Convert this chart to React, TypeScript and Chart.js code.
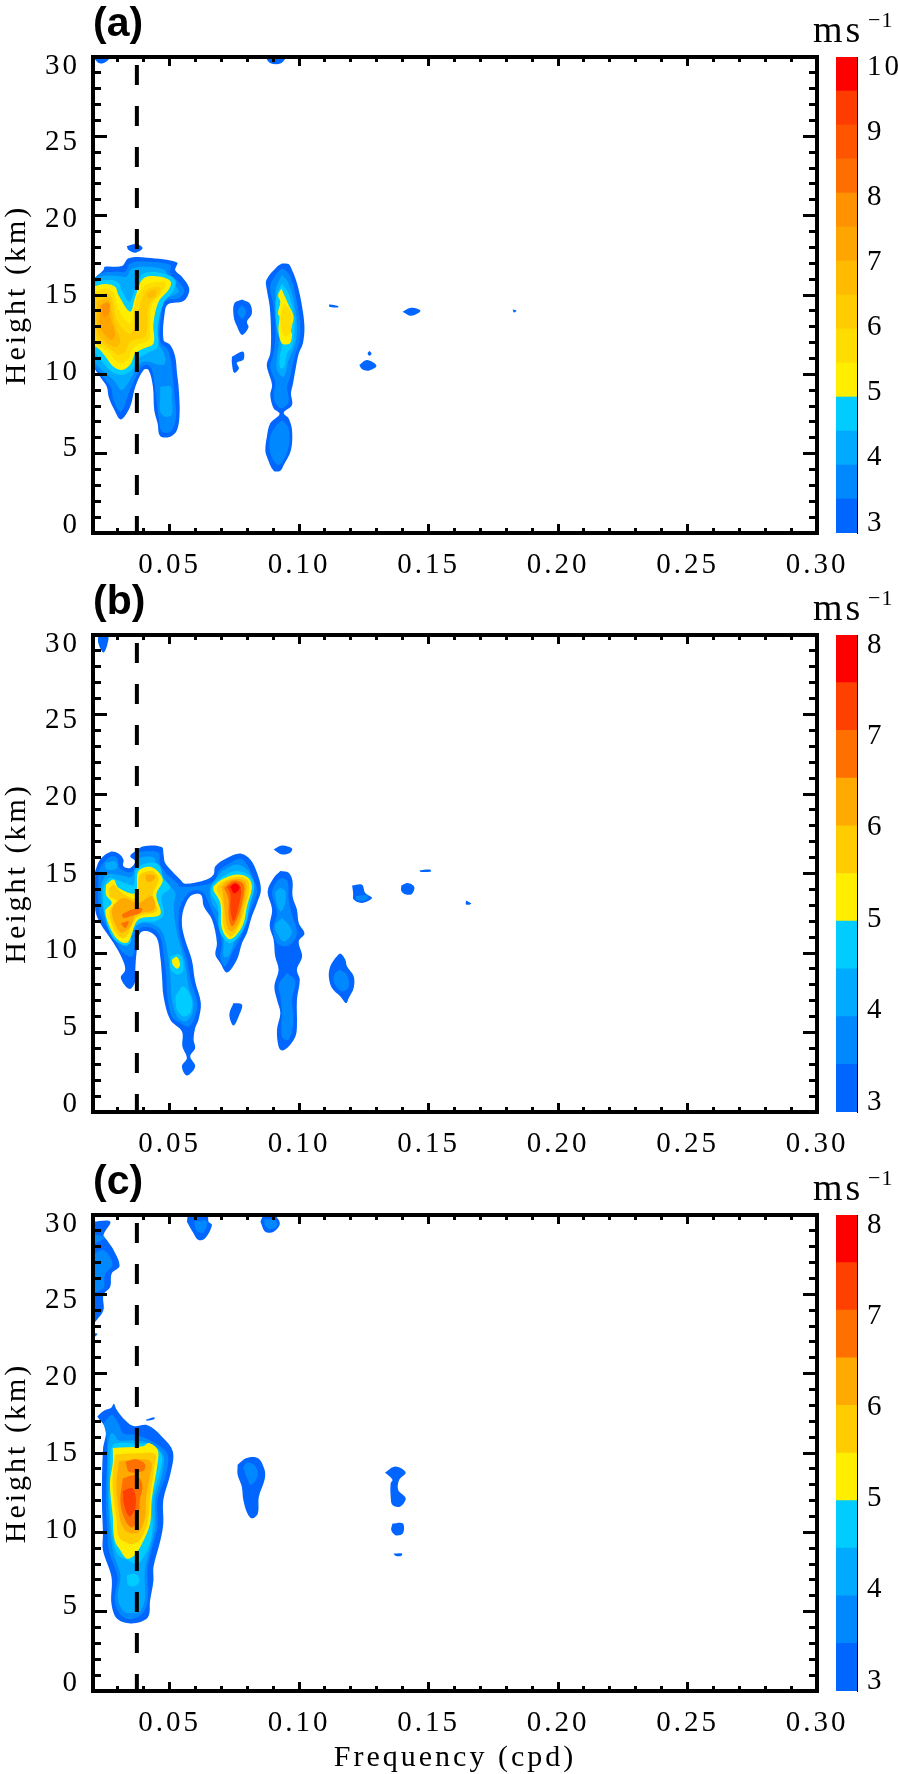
import React, { useEffect, useRef } from "react";
import { Chart, registerables } from "chart.js";

Chart.register(...registerables);

type Poly = number[][];

const xMin = 0.02046;
const xMax = 0.3;
const dashFrequency = 0.0374;
const xMajor = [0.05, 0.1, 0.15, 0.2, 0.25, 0.3];
const xMinor = [0.03, 0.04, 0.06, 0.07, 0.08, 0.09, 0.11, 0.12, 0.13, 0.14, 0.16, 0.17, 0.18, 0.19, 0.21, 0.22, 0.23, 0.24, 0.26, 0.27, 0.28, 0.29];
const yMajor = [0, 5, 10, 15, 20, 25, 30];
const yMinor = [1, 2, 3, 4, 6, 7, 8, 9, 11, 12, 13, 14, 16, 17, 18, 19, 21, 22, 23, 24, 26, 27, 28, 29];
const barTicksA = [3, 4, 5, 6, 7, 8, 9, 10];
const barTicksBC = [3, 4, 5, 6, 7, 8];
const bandsA = [3, 3.5, 4, 4.5, 5, 5.5, 6, 6.5, 7, 7.5, 8, 8.5, 9, 9.5];
const bandsBC = [3, 3.5, 4, 4.5, 5, 5.5, 6, 6.5, 7, 7.5];
const coloursA = ["#0066ff", "#0088ff", "#00aaff", "#00ccff", "#ffee00", "#ffdd00", "#ffcc00", "#ffbb00", "#ffa500", "#ff9200", "#ff6e00", "#ff5500", "#ff3c00", "#ff0000"];
const coloursBC = ["#0066ff", "#0088ff", "#00aaff", "#00ccff", "#ffee00", "#ffcc00", "#ffaa00", "#ff7000", "#ff4000", "#ff0000"];

// ---------- panel (a): contour outlines, [frequency, height] ----------
const A_30: Poly[] = [
  [[.0204,15.94],[.0245,16.57],[.025,16.78],[.0316,16.82],[.0342,17.31],[.0413,17.35],[.0529,17.05],[.0522,16.57],[.0548,16.15],[.0574,15.52],[.0574,15.1],[.0554,14.62],[.0496,14.43],[.0483,14.05],[.0477,12.16],[.0503,11.85],[.0522,11.11],[.0529,10.06],[.0535,9.22],[.0539,7.54],[.0529,6.49],[.0503,6.07],[.0464,6.11],[.0454,6.91],[.0441,7.75],[.0436,9.22],[.0419,10.27],[.04,10.27],[.0368,9.22],[.0348,7.96],[.0312,7.16],[.0284,7.86],[.0265,8.59],[.0258,9.22],[.0232,9.85],[.0204,10.69]],
  [[.0934,16.99],[.096,16.95],[.0973,16.57],[.0986,16.05],[.0999,15.31],[.1012,14.26],[.1021,13.0],[.1015,11.95],[.0999,11.32],[.0986,10.27],[.0977,9.43],[.0969,8.8],[.0973,8.07],[.0941,7.58],[.096,7.22],[.0973,6.49],[.0969,5.23],[.0941,4.28],[.0928,3.93],[.0902,3.93],[.0876,4.81],[.087,5.23],[.0876,6.07],[.0889,6.91],[.0925,7.5],[.0902,7.86],[.0889,8.7],[.0896,9.33],[.0879,10.27],[.0876,10.69],[.0889,11.32],[.0892,12.58],[.0887,14.26],[.0876,15.31],[.0874,15.94],[.0915,16.78]],
  [[.078,14.72],[.081,14.47],[.0818,13.84],[.0799,13.32],[.0805,12.96],[.078,12.48],[.076,13.04],[.0748,13.63],[.075,14.47]],
  [[.0741,11.11],[.0784,11.43],[.0786,10.94],[.076,10.73],[.0768,10.37],[.075,10.1],[.0741,10.69]],
  [[.1117,14.41],[.1151,14.3],[.1151,14.22],[.1117,14.26]],
  [[.14,13.95],[.1433,14.2],[.1469,14.01],[.1433,13.69]],
  [[.1233,10.59],[.1263,10.9],[.1299,10.54],[.1269,10.23],[.1243,10.33]],
  [[.1272,11.47],[.128,11.32],[.1272,11.17],[.1265,11.32]],
  [[.1825,14.1],[.184,14.0],[.183,13.9]],
  [[.0204,30],[.0268,30],[.0255,29.7],[.023,29.6]],
  [[.087,30],[.0947,30],[.093,29.6],[.089,29.6]],
  [[.0335,18.08],[.0374,18.21],[.0396,17.94],[.0368,17.66],[.0342,17.83]],
];
const A_35: Poly[] = [
  [[.0204,15.94],[.0232,16.36],[.0297,16.47],[.0329,16.47],[.0348,16.99],[.0413,17.1],[.0503,16.9],[.0503,16.36],[.0541,15.73],[.0557,15.2],[.0535,14.79],[.0483,14.64],[.047,14.05],[.0464,12.06],[.049,11.64],[.0505,10.9],[.0513,9.85],[.052,8.59],[.0525,7.33],[.0505,6.4],[.047,6.4],[.0458,7.33],[.0445,9.01],[.0432,10.27],[.0413,10.6],[.0387,10.37],[.0348,9.01],[.0312,7.64],[.0284,8.38],[.0273,9.22],[.0232,10.06],[.0204,10.8]],
  [[.0934,16.68],[.096,16.36],[.0979,15.52],[.0995,14.26],[.1005,13.0],[.0999,11.95],[.0979,10.9],[.0966,9.85],[.0954,9.22],[.096,8.28],[.0934,7.86],[.0909,8.17],[.0902,8.8],[.0909,9.43],[.0889,10.48],[.0902,11.32],[.0909,12.58],[.0902,14.26],[.0889,15.52],[.0909,16.25]],
  [[.0934,7.12],[.096,6.6],[.0957,5.23],[.0921,4.29],[.0889,5.02],[.0889,6.07],[.0909,6.7]],
  [[.078,14.37],[.0796,13.95],[.078,13.52],[.0763,13.95]],
];
const A_40: Poly[] = [
  [[.0204,15.84],[.0245,16.19],[.0303,16.19],[.0333,16.15],[.0355,16.67],[.0413,16.78],[.0483,16.57],[.0492,16.15],[.0522,15.62],[.0535,15.2],[.0509,14.93],[.0477,14.68],[.0462,13.84],[.0458,11.95],[.0477,11.43],[.0483,10.69],[.0458,10.6],[.0419,10.8],[.0387,10.69],[.0355,9.85],[.0316,9.01],[.0284,9.64],[.0232,10.38],[.0204,11.0]],
  [[.0464,9.22],[.0505,9.22],[.0509,8.49],[.0509,7.45],[.0483,7.33],[.0464,7.65],[.0464,8.59]],
  [[.0934,16.27],[.096,15.73],[.0982,14.47],[.0992,13.0],[.0986,11.95],[.096,10.9],[.0941,9.85],[.0915,10.27],[.0915,11.11],[.0925,12.37],[.0918,14.26],[.0909,15.31]],
];
const A_45: Poly[] = [
  [[.0204,15.73],[.0252,15.94],[.0297,15.84],[.0322,15.1],[.0346,14.58],[.0374,15.73],[.04,16.36],[.0477,16.36],[.0522,15.94],[.0516,15.31],[.0477,14.47],[.0454,13.0],[.0454,11.74],[.0413,11.32],[.038,11.0],[.0355,10.27],[.0316,9.96],[.0277,10.17],[.0245,10.69],[.0219,11.22],[.0204,11.53]],
  [[.0934,15.73],[.096,15.1],[.0982,13.63],[.0982,12.79],[.0973,11.74],[.0954,11.32],[.0943,10.48],[.0928,10.38],[.0925,11.11],[.0934,11.85],[.0915,12.79],[.0909,14.47],[.0918,15.2]],
];
const A_50: Poly[] = [
  [[.0204,15.52],[.0252,15.69],[.029,15.52],[.0303,15.0],[.0348,13.95],[.0368,14.89],[.04,16.05],[.0464,16.15],[.0505,15.84],[.0496,15.31],[.0458,14.58],[.0438,13.21],[.0438,11.95],[.04,11.63],[.0368,11.32],[.0348,10.6],[.0316,10.27],[.0284,10.48],[.0258,11.0],[.0232,11.53],[.0204,11.95]],
  [[.0932,15.41],[.096,14.37],[.0979,13.63],[.0969,12.79],[.0973,12.47],[.0964,11.95],[.0934,11.95],[.0921,12.79],[.0925,13.63],[.0918,13.84],[.0928,14.57],[.0919,14.99]],
];
const A_55: Poly[] = [
  [[.0209,15.2],[.0258,15.42],[.0284,15.1],[.0303,14.05],[.0342,13.21],[.0355,13.42],[.0368,14.58],[.0406,15.62],[.0464,15.84],[.0487,15.73],[.047,15.1],[.0432,14.37],[.0425,13.0],[.0419,12.16],[.0361,11.74],[.0342,11.0],[.031,10.69],[.0284,11.0],[.0265,11.42],[.0213,12.06]],
  [[.0941,14.47],[.0969,13.84],[.0966,12.58],[.0941,12.47],[.0928,13.42]],
];
const A_60: Poly[] = [
  [[.0213,14.89],[.0265,15.1],[.0284,14.47],[.0297,13.42],[.0342,12.58],[.0368,13.0],[.038,14.05],[.0413,15.31],[.0458,15.52],[.0464,15.2],[.0419,14.26],[.0413,12.79],[.0406,12.37],[.0348,12.06],[.0329,11.42],[.0303,11.22],[.0277,11.53],[.0219,12.37]],
];
const A_65: Poly[] = [
  [[.0219,14.58],[.0265,14.79],[.0277,14.05],[.029,13.0],[.031,12.16],[.0297,11.74],[.0271,11.85],[.0226,12.58]],
  [[.0413,15.1],[.0445,15.31],[.0445,14.99],[.0419,14.79]],
];
const A_70: Poly[] = [
  [[.0232,14.37],[.0265,14.58],[.0271,13.63],[.029,12.58],[.0277,12.16],[.0258,12.37],[.0232,13.0]],
];
const A_75: Poly[] = [
  [[.0239,14.37],[.0265,14.47],[.0265,13.84],[.0245,13.63]],
];

// ---------- panel (b) ----------
const B_30: Poly[] = [
  [[.0213,15.15],[.0232,15.88],[.0271,16.36],[.0303,16.26],[.0322,15.88],[.0322,15.46],[.0348,15.35],[.0368,15.77],[.0348,16.09],[.0368,16.4],[.04,16.72],[.047,16.66],[.0477,16.2],[.0483,15.67],[.0509,15.15],[.0541,14.62],[.056,14.35],[.0644,14.62],[.067,14.93],[.0677,15.46],[.0722,15.98],[.0773,16.26],[.0812,15.88],[.0838,15.04],[.0853,13.99],[.0838,13.15],[.0818,12.31],[.0799,11.26],[.078,10.63],[.076,9.58],[.0722,8.78],[.0696,9.37],[.0677,9.9],[.0683,10.63],[.0664,12.1],[.0632,12.94],[.0625,13.57],[.0612,13.72],[.058,13.57],[.0554,12.73],[.0548,11.79],[.056,10.84],[.0586,9.58],[.0599,8.2],[.0621,6.85],[.0612,5.8],[.0599,5.27],[.0593,4.54],[.0599,4.02],[.058,3.49],[.0599,2.86],[.0567,2.29],[.0548,2.86],[.0567,3.39],[.055,4.12],[.0548,5.06],[.0503,5.8],[.0477,7.27],[.0471,8.53],[.0464,9.79],[.0451,10.94],[.0419,11.36],[.0387,11.26],[.0374,10.21],[.0368,8.95],[.0368,8.22],[.0346,7.73],[.0312,8.43],[.0329,8.95],[.0316,9.69],[.0284,10.63],[.0232,11.89],[.0213,12.73]],
  [[.0928,15.15],[.096,15.04],[.0975,14.51],[.0975,13.57],[.0992,12.73],[.0999,11.89],[.1021,11.22],[.0999,10.73],[.1012,9.79],[.0992,8.95],[.1003,8.32],[.0992,7.06],[.0992,5.38],[.0986,4.75],[.096,4.12],[.0934,3.87],[.0921,4.12],[.0915,5.17],[.0928,6.22],[.0915,7.06],[.0905,7.9],[.0921,8.95],[.0908,9.79],[.0902,10.84],[.0887,11.68],[.0896,12.73],[.0879,13.88],[.0902,14.72]],
  [[.114,9.68],[.116,9.96],[.1179,9.58],[.1185,9.16],[.1211,8.53],[.1211,7.8],[.1192,7.17],[.1182,6.85],[.116,7.27],[.1127,7.8],[.1115,8.53],[.1121,9.16]],
  [[.0747,6.85],[.078,6.74],[.0767,6.01],[.0747,5.44],[.0731,6.12]],
  [[.0902,16.51],[.0934,16.76],[.0973,16.57],[.0966,16.3],[.0934,16.2]],
  [[.1205,14.24],[.1243,14.3],[.1256,13.78],[.1282,13.46],[.1243,13.15],[.1211,13.36],[.1209,13.78]],
  [[.1395,14.25],[.142,14.4],[.1445,14.15],[.1435,13.7],[.141,13.7],[.1395,13.9]],
  [[.1465,15.2],[.1505,15.25],[.151,15.13],[.147,15.1]],
  [[.1645,13.3],[.1665,13.1],[.1645,13.05]],
  [[.0225,30],[.0262,30],[.026,29.4],[.0245,28.9],[.0225,29.5]],
];
const B_35: Poly[] = [
  [[.0226,15.15],[.0245,15.67],[.0271,16.05],[.0297,15.99],[.0307,15.35],[.0348,15.08],[.0374,15.46],[.0368,16.19],[.0406,16.4],[.0458,16.3],[.0464,15.57],[.0492,14.93],[.0529,14.41],[.0541,14.16],[.0644,14.31],[.0677,14.62],[.069,15.15],[.0735,15.67],[.0773,15.92],[.0799,15.57],[.0822,14.72],[.0838,13.89],[.0818,12.94],[.0799,12.0],[.0773,10.94],[.0741,10.0],[.0715,9.16],[.0696,9.69],[.0702,10.63],[.0683,11.89],[.0651,13.15],[.0632,13.78],[.0606,13.95],[.0574,13.78],[.0541,12.94],[.0535,11.89],[.0541,11.05],[.0567,9.58],[.0583,8.2],[.0606,6.96],[.0599,6.01],[.0574,5.38],[.0541,5.59],[.0509,6.01],[.0492,7.27],[.0487,8.53],[.0477,9.9],[.0464,11.05],[.0432,11.57],[.0387,11.57],[.0368,10.73],[.0355,9.79],[.0316,10.1],[.029,10.84],[.0245,12.0],[.0226,12.83]],
  [[.0934,14.73],[.0956,14.51],[.096,13.36],[.0973,12.42],[.0992,11.26],[.0973,10.63],[.0947,10.42],[.0915,10.63],[.09,11.57],[.0915,12.52],[.0896,13.78],[.0915,14.51]],
  [[.0954,8.74],[.0986,8.22],[.0973,7.06],[.0979,5.8],[.096,4.54],[.0934,4.75],[.0934,6.22],[.0928,7.27],[.0921,8.0]],
  [[.116,8.95],[.1185,8.63],[.1192,7.9],[.1166,7.58],[.1134,8.2],[.114,8.74]],
  [[.1218,13.57],[.1263,13.63],[.1263,13.36],[.1224,13.32]],
];
const B_40: Poly[] = [
  [[.0232,14.1],[.0258,14.93],[.0316,14.87],[.0355,14.79],[.0377,15.88],[.0441,15.99],[.0451,15.25],[.0492,14.41],[.0522,13.78],[.0516,12.94],[.0522,11.89],[.0535,10.84],[.056,9.37],[.0574,7.9],[.0593,6.85],[.0586,6.12],[.056,5.7],[.0529,6.01],[.0509,7.06],[.0503,8.53],[.0492,10.0],[.0474,11.26],[.0438,11.79],[.038,11.79],[.0355,11.05],[.0335,10.42],[.0297,10.84],[.0265,11.68],[.0243,12.73]],
  [[.0252,15.67],[.029,15.77],[.0297,15.35],[.0265,15.21],[.0252,15.35]],
  [[.0702,15.15],[.076,15.57],[.0805,15.15],[.0825,14.1],[.0805,12.94],[.0786,12.0],[.0754,10.84],[.0728,9.79],[.0709,9.79],[.0709,10.84],[.0696,12.31],[.0664,13.15],[.0657,14.1]],
  [[.0928,14.1],[.0947,13.88],[.0947,13.15],[.0928,12.62],[.0908,13.78]],
  [[.0934,12.2],[.096,11.78],[.0973,11.26],[.0941,10.73],[.0915,11.26],[.0908,11.78]],
];
const B_45: Poly[] = [
  [[.0243,14.1],[.0268,14.72],[.031,14.51],[.0361,14.3],[.0371,15.25],[.0419,15.67],[.0458,15.57],[.0477,14.72],[.0503,14.1],[.047,13.57],[.0477,12.42],[.0445,12.0],[.0387,11.93],[.0355,11.36],[.0348,10.63],[.0316,10.52],[.0277,11.05],[.0248,12.52]],
  [[.0522,7.27],[.0554,7.9],[.0586,7.06],[.058,6.22],[.0554,6.01],[.0529,6.43]],
  [[.0503,9.79],[.0541,9.9],[.0554,8.95],[.0535,8.64],[.0505,8.95]],
  [[.0664,14.24],[.0702,14.79],[.076,15.15],[.0814,14.79],[.0827,14.1],[.0808,12.9],[.0795,11.85],[.076,10.88],[.0728,10.63],[.0693,11.43],[.0686,12.94],[.0661,13.78]],
];
const B_50: Poly[] = [
  [[.0255,14.3],[.0284,14.62],[.0303,14.1],[.0368,13.78],[.038,15.15],[.0432,15.4],[.0474,14.62],[.0449,13.67],[.0464,12.42],[.038,12.1],[.0342,10.73],[.0316,10.67],[.0284,11.16],[.0252,12.63],[.0277,13.15],[.0255,13.67]],
  [[.0509,9.58],[.0529,9.75],[.0541,9.26],[.0529,9.01],[.0513,9.26]],
  [[.067,14.2],[.0702,14.62],[.076,14.93],[.0805,14.72],[.0818,14.1],[.0799,12.94],[.0786,11.89],[.0754,11.05],[.0728,10.88],[.0702,11.57],[.0696,13.15],[.067,13.95]],
];
const B_55: Poly[] = [
  [[.0265,13.99],[.0284,14.3],[.0316,13.78],[.0374,13.46],[.0384,14.87],[.0432,15.15],[.0458,14.66],[.0436,13.67],[.0451,12.63],[.0374,12.27],[.0335,11.05],[.0316,10.95],[.029,11.36],[.0268,12.63],[.0297,13.26],[.0268,13.57]],
  [[.0686,14.2],[.0709,14.51],[.076,14.79],[.0799,14.62],[.0808,14.1],[.0793,12.94],[.0773,11.89],[.0747,11.15],[.0732,11.05],[.0709,11.68],[.0702,13.26],[.0683,13.95]],
];
const B_60: Poly[] = [
  [[.0284,13.04],[.0322,13.46],[.038,13.15],[.0432,13.57],[.0441,12.73],[.0368,12.42],[.0355,11.79],[.0316,11.26],[.0294,11.68],[.0277,12.52]],
  [[.0406,14.93],[.0445,14.87],[.0432,14.51],[.0413,14.51]],
  [[.0702,14.16],[.0722,14.51],[.076,14.66],[.0793,14.45],[.0795,13.88],[.078,12.73],[.0767,11.89],[.0741,11.36],[.0722,11.68],[.0711,12.94],[.0706,13.67]],
];
const B_65: Poly[] = [
  [[.0316,12.42],[.0355,12.73],[.0393,12.83],[.0387,12.52],[.0348,12.31],[.0322,12.2]],
  [[.0312,11.85],[.0342,12.0],[.0329,11.57]],
  [[.0711,14.1],[.0747,14.56],[.0786,14.3],[.078,13.15],[.076,12.1],[.0741,11.68],[.0728,12.31],[.0728,13.36]],
];
const B_70: Poly[] = [
  [[.0722,14.16],[.0754,14.45],[.0776,14.1],[.0767,12.94],[.0747,12.0],[.0735,12.73],[.0735,13.67]],
];
const B_75: Poly[] = [
  [[.0735,14.16],[.0754,14.37],[.0771,14.1],[.075,13.74]],
];

// ---------- panel (c) ----------
const C_30: Poly[] = [
  [[.0221,17.3],[.0245,17.65],[.0275,17.85],[.0285,18.1],[.0295,17.75],[.0322,17.18],[.0361,16.7],[.0413,16.76],[.0471,16.03],[.0513,15.08],[.0504,13.73],[.0476,12.04],[.0476,10.56],[.0465,9.5],[.0438,7.81],[.0438,6.97],[.0425,5.7],[.0416,4.64],[.0354,4.26],[.0299,4.53],[.0276,5.49],[.0276,7.18],[.0243,8.87],[.0243,9.93],[.0239,12.04],[.0243,15.21],[.0254,16.48]],
  [[.0763,14.26],[.0797,14.68],[.0841,14.68],[.0867,13.94],[.0867,13.31],[.0845,12.25],[.0841,11.19],[.0819,10.88],[.0801,11.19],[.0785,12.04],[.0779,12.89],[.0763,13.63]],
  [[.1332,13.77],[.1372,14.15],[.1412,13.77],[.1387,13.31],[.1383,12.67],[.1412,12.15],[.139,11.62],[.1361,11.72],[.1354,12.25],[.1354,13.1],[.1361,13.31]],
  [[.1361,10.56],[.1401,10.56],[.1401,9.93],[.1372,9.82],[.1356,10.14]],
  [[.1365,8.66],[.1398,8.66],[.1394,8.51],[.1372,8.53]],
  [[.0204,29.58],[.0271,29.58],[.0245,28.74],[.0258,28.42],[.0284,27.79],[.0307,26.78],[.0277,26.32],[.0271,25.48],[.0245,24.96],[.0245,24.01],[.0219,23.38],[.0204,23.17]],
  [[.0205,22.6],[.0222,22.5],[.0205,22.3]],
  [[.0567,29.58],[.0575,30],[.0645,30],[.0651,29.58],[.0664,29.37],[.0638,28.53],[.0612,28.42],[.0593,28.84]],
  [[.0851,29.58],[.0865,30],[.0902,30],[.0926,29.47],[.0902,28.95],[.087,28.95]],
  [[.0409,17.1],[.0441,17.25],[.0441,17.12],[.0412,17.03]],
];
const C_35: Poly[] = [
  [[.0245,16.87],[.0277,17.4],[.0303,16.87],[.0322,16.24],[.0374,16.13],[.0445,15.61],[.0492,14.9],[.0487,13.73],[.0454,12.04],[.0454,10.35],[.0438,9.29],[.0416,7.81],[.0416,5.7],[.0394,4.85],[.0354,4.53],[.0314,4.75],[.0288,5.7],[.0299,7.18],[.0265,8.87],[.0261,9.93],[.0254,12.04],[.0259,15.21],[.0254,16.27]],
  [[.0785,14.1],[.08,14.4],[.083,14.2],[.084,13.6],[.0815,13.0],[.0795,13.6]],
  [[.0204,27.5],[.0245,27.8],[.028,26.9],[.025,26.2],[.0245,25.4],[.0204,25.2]],
  [[.0204,28.8],[.025,28.6],[.0204,28.2]],
  [[.0595,29.6],[.0645,29.6],[.063,28.9],[.0605,29.0]],
  [[.0865,29.7],[.0905,29.7],[.0915,29.3],[.089,29.1],[.087,29.3]],
];
const C_40: Poly[] = [
  [[.0262,15.4],[.0272,16.2],[.0285,16.2],[.0305,15.8],[.036,15.8],[.0425,15.6],[.0475,14.9],[.0475,13.9],[.0445,12.04],[.0445,10.4],[.043,9.3],[.0405,7.6],[.0405,5.8],[.0385,5.0],[.0354,4.9],[.0325,5.0],[.03,5.8],[.031,7.3],[.0285,8.6],[.0272,9.9],[.0262,12.0]],
];
const C_45: Poly[] = [
  [[.0272,15.2],[.029,15.6],[.037,15.6],[.0435,15.5],[.047,14.8],[.0465,13.9],[.0435,12.0],[.0435,10.4],[.0425,9.3],[.039,8.2],[.037,8.0],[.0345,8.2],[.03,8.6],[.0278,10.0],[.0268,12.0],[.027,14.0]],
  [[.0335,7.3],[.0365,7.4],[.0385,7.0],[.0365,6.6],[.034,6.7]],
];
const C_50: Poly[] = [
  [[.0281,15.32],[.0398,15.42],[.042,15.63],[.0454,15.21],[.0454,14.37],[.0431,12.04],[.0425,10.56],[.0394,9.29],[.0365,8.55],[.0336,8.34],[.031,8.87],[.0288,9.5],[.0281,10.98],[.027,13.1],[.0281,14.37]],
];
const C_55: Poly[] = [
  [[.029,14.9],[.04,15.0],[.0445,14.9],[.044,14.0],[.0425,12.2],[.0415,10.6],[.039,9.6],[.0365,9.3],[.034,9.3],[.0305,9.7],[.0295,10.9],[.028,13.1]],
];
const C_60: Poly[] = [
  [[.0305,14.5],[.04,14.6],[.043,14.4],[.0425,13.6],[.041,12.2],[.0405,10.9],[.038,10.0],[.034,10.0],[.0315,10.5],[.0305,11.2],[.0295,13.0]],
];
const C_65: Poly[] = [
  [[.033,14.45],[.037,14.6],[.0405,14.3],[.04,13.9],[.0345,13.8]],
  [[.032,13.4],[.037,13.6],[.0395,13.0],[.0385,12.0],[.038,11.0],[.0355,10.3],[.0325,10.9],[.031,12.0]],
];
const C_70: Poly[] = [
  [[.032,12.6],[.0355,12.8],[.037,12.2],[.0365,11.4],[.0345,11.0],[.0325,11.7]],
];

const contoursA = [A_30, A_35, A_40, A_45, A_50, A_55, A_60, A_65, A_70, A_75];
const contoursB = [B_30, B_35, B_40, B_45, B_50, B_55, B_60, B_65, B_70, B_75];
const contoursC = [C_30, C_35, C_40, C_45, C_50, C_55, C_60, C_65, C_70];

const SERIF = "'Liberation Serif', serif";
const tickFont = { family: SERIF, size: 29, lineHeight: 1 };
const titleFont = { family: SERIF, size: 30, lineHeight: 1 };

const spacingPlugin = {
  id: "spacing",
  beforeDraw(chart: any) {
    chart.ctx.letterSpacing = "3px";
    const block = chart.titleBlock;
    if (block && !block.__unspaced) {
      const draw = block.draw;
      block.draw = function (...args: any[]) {
        chart.ctx.save();
        chart.ctx.letterSpacing = "0px";
        draw.apply(block, args);
        chart.ctx.restore();
      };
      block.__unspaced = true;
    }
  },
};

function zeroPadding(s: any) {
  s.paddingLeft = s.paddingRight = s.paddingTop = s.paddingBottom = 0;
}

function edgeAxis(position: string, min: number, max: number, values: number[], len: number) {
  const horizontal = position === "top" || position === "bottom";
  return {
    type: "linear",
    position,
    min,
    max,
    afterBuildTicks: (s: any) => { s.ticks = values.map((value) => ({ value })); },
    afterFit: (s: any) => { if (horizontal) s.height = 0; else s.width = 0; zeroPadding(s); },
    ticks: { display: false },
    grid: { display: true, drawOnChartArea: false, drawTicks: true, tickLength: -len, tickWidth: 3, tickColor: "#000", z: 1 },
    border: { display: true, width: 4, color: "#000", z: 1 },
  };
}

function flatten(polys: Poly[]) {
  const out: any[] = [];
  for (const p of polys) {
    for (const [x, y] of p) out.push({ x, y });
    out.push({ x: p[0][0], y: p[0][1] });
    out.push({ x: p[0][0], y: null });
  }
  return out;
}

function mainConfig(label: string, contours: Poly[][], colours: string[], bottomSpace: number, showXTitle: boolean): any {
  const datasets: any[] = contours.map((polys, i) => ({
    data: flatten(polys),
    showLine: true,
    fill: "shape",
    backgroundColor: colours[i],
    borderWidth: 0,
    pointRadius: 0,
    tension: 0.35,
    spanGaps: false,
    order: 100 - i,
  }));
  datasets.push({
    data: [{ x: dashFrequency, y: 30 }, { x: dashFrequency, y: 0 }],
    showLine: true,
    fill: false,
    borderColor: "#000",
    borderWidth: 4,
    borderDash: [20, 21],
    borderDashOffset: 33,
    borderCapStyle: "butt",
    pointRadius: 0,
    order: 0,
  });
  return {
    type: "scatter",
    data: { datasets },
    plugins: [spacingPlugin],
    options: {
      responsive: false,
      animation: false,
      events: [],
      layout: { padding: { top: 4, left: 0, right: 81, bottom: 0 } },
      plugins: {
        legend: { display: false },
        tooltip: { enabled: false },
        title: {
          display: true,
          text: label,
          align: "start",
          fullSize: false,
          color: "#000",
          font: { family: "'Liberation Sans', sans-serif", weight: "bold", size: 41, lineHeight: 1 },
          padding: { top: 0, bottom: 12 },
        },
      },
      scales: {
        x: edgeAxis("bottom", xMin, xMax, xMajor, 9),
        xMinorBottom: edgeAxis("bottom", xMin, xMax, xMinor, 5),
        xTop: edgeAxis("top", xMin, xMax, xMajor, 9),
        xMinorTop: edgeAxis("top", xMin, xMax, xMinor, 5),
        y: edgeAxis("left", 0, 30, yMajor, 14),
        yMinorLeft: edgeAxis("left", 0, 30, yMinor, 8),
        yRight: edgeAxis("right", 0, 30, yMajor, 14),
        yMinorRight: edgeAxis("right", 0, 30, yMinor, 8),
        xLabels: {
          type: "linear",
          position: "bottom",
          min: xMin,
          max: xMax,
          afterBuildTicks: (s: any) => { s.ticks = xMajor.map((value) => ({ value })); },
          afterFit: (s: any) => { s.height = bottomSpace; zeroPadding(s); },
          grid: { display: false, drawTicks: false },
          border: { display: false },
          ticks: {
            autoSkip: false, maxRotation: 0, minRotation: 0, padding: 18, color: "#000", font: tickFont,
            callback: (v: number) => v.toFixed(2),
          },
          title: {
            display: showXTitle, text: "Frequency (cpd)", color: "#000", font: titleFont,
            padding: { top: 0, bottom: 1 },
          },
        },
        yLabels: {
          type: "linear",
          position: "left",
          min: -0.523,
          max: 30.59,
          afterBuildTicks: (s: any) => { s.ticks = yMajor.map((value) => ({ value })); },
          afterFit: (s: any) => { s.width = 93; zeroPadding(s); },
          grid: { display: false, drawTicks: false },
          border: { display: false },
          ticks: {
            autoSkip: false, maxRotation: 0, minRotation: 0, padding: 13, color: "#000", font: tickFont,
            callback: (v: number) => String(v),
          },
          title: {
            display: true, text: "Height (km)", color: "#000", font: titleFont,
            padding: { top: 2, bottom: 0 },
          },
        },
      },
    },
  };
}

function barConfig(bands: number[], colours: string[], ticks: number[], bottomSpace: number): any {
  const lo = ticks[0];
  const hi = ticks[ticks.length - 1];
  const pad = (10 * (hi - lo)) / 456;
  return {
    type: "bar",
    data: {
      labels: [""],
      datasets: bands.map((b, i) => ({
        data: [[b, b + 0.5]],
        backgroundColor: colours[i],
        barPercentage: 1,
        categoryPercentage: 1,
        grouped: false,
      })),
    },
    plugins: [spacingPlugin],
    options: {
      responsive: false,
      animation: false,
      events: [],
      layout: { padding: { top: 57, left: 6, right: 0, bottom: bottomSpace } },
      plugins: { legend: { display: false }, tooltip: { enabled: false }, title: { display: false } },
      scales: {
        x: { display: false },
        y: { display: false, min: lo, max: hi },
        yLabels: {
          type: "linear",
          position: "right",
          min: lo - pad,
          max: hi + pad,
          afterBuildTicks: (s: any) => { s.ticks = ticks.map((value) => ({ value })); },
          afterFit: (s: any) => { s.width = 41; zeroPadding(s); },
          grid: { display: false, drawTicks: false },
          border: { display: true, width: 1, color: "#000", z: 1 },
          ticks: {
            autoSkip: false, maxRotation: 0, minRotation: 0, padding: 10, color: "#000", font: tickFont,
            callback: (v: number) => String(v),
          },
        },
      },
    },
  };
}

const panels = [
  { top: 0, height: 578, label: "(a)", contours: contoursA, colours: coloursA, bands: bandsA, ticks: barTicksA, bottom: 45, xTitle: false },
  { top: 578, height: 578, label: "(b)", contours: contoursB, colours: coloursBC, bands: bandsBC, ticks: barTicksBC, bottom: 44, xTitle: false },
  { top: 1158, height: 616, label: "(c)", contours: contoursC, colours: coloursBC, bands: bandsBC, ticks: barTicksBC, bottom: 83, xTitle: true },
];

export default function App() {
  const mainRefs = useRef<(HTMLCanvasElement | null)[]>([]);
  const barRefs = useRef<(HTMLCanvasElement | null)[]>([]);

  useEffect(() => {
    const charts: Chart[] = [];
    panels.forEach((p, i) => {
      charts.push(new Chart(mainRefs.current[i] as any, mainConfig(p.label, p.contours, p.colours, p.bottom, p.xTitle)));
      charts.push(new Chart(barRefs.current[i] as any, barConfig(p.bands, p.colours, p.ticks, p.bottom)));
    });
    return () => charts.forEach((c) => c.destroy());
  }, []);

  return (
    <div style={{ position: "absolute", left: 0, top: 0, width: 898, height: 1774, overflow: "hidden", background: "#fff" }}>
      {panels.map((p, i) => (
        <React.Fragment key={p.label}>
          <canvas
            ref={(el) => { mainRefs.current[i] = el; }}
            width={898}
            height={p.height}
            style={{ position: "absolute", left: 0, top: p.top, width: 898, height: p.height }}
          />
          <canvas
            ref={(el) => { barRefs.current[i] = el; }}
            width={68}
            height={p.height}
            style={{ position: "absolute", left: 830, top: p.top, width: 68, height: p.height }}
          />
          <span style={{ position: "absolute", left: 813, top: p.top + 11, font: `38px/36px ${SERIF}`, letterSpacing: 3, color: "#000", whiteSpace: "nowrap" }}>ms</span>
          <span style={{ position: "absolute", left: 868, top: p.top + 10, font: `22px/20px ${SERIF}`, letterSpacing: 1, color: "#000", whiteSpace: "nowrap" }}>−1</span>
        </React.Fragment>
      ))}
    </div>
  );
}
